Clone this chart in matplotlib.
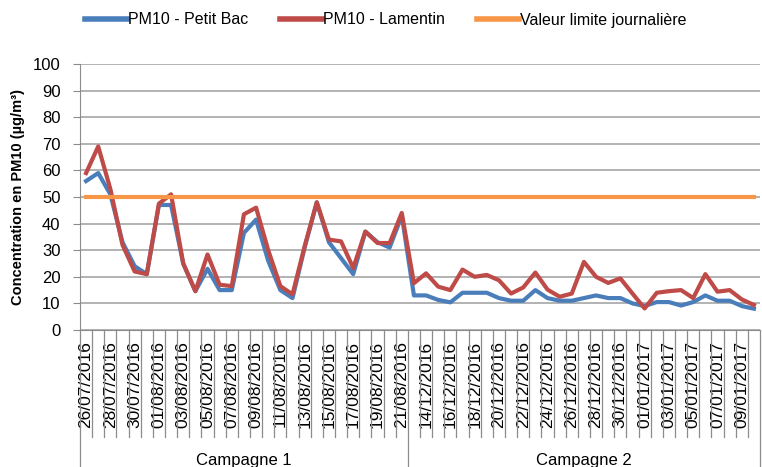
import matplotlib
matplotlib.use("Agg")
import matplotlib.pyplot as plt
import matplotlib.transforms as mtransforms
import pandas as pd

# categories: two measurement campaigns
dates_c1 = pd.date_range("2016-07-26", "2016-08-21").strftime("%d/%m/%Y").tolist()
dates_c2 = pd.date_range("2016-12-13", "2017-01-10").strftime("%d/%m/%Y").tolist()
dates = dates_c1 + dates_c2
campaigns = ["Campagne 1", "Campagne 2"]

# PM10 daily values (µg/m3)
petit_bac = [56, 59, 51, 33, 24, 21, 47, 47, 25, 14.6, 23, 15, 15, 36.5, 41.5, 26, 15, 12,
             31, 48, 33, 27, 21, 37, 33, 31, 43,
             13, 13, 11.3, 10.4, 14, 14, 14, 12, 11, 11, 15, 12, 11, 11, 12, 13, 12, 12, 10,
             9, 10.5, 10.5, 9.2, 10.5, 13, 11, 11, 9, 8]
lamentin = [59, 69, 53, 32, 22, 21, 47.5, 51, 25, 14.6, 28.4, 17, 16.5, 43.5, 46, 30, 16.5, 13.4,
            31.5, 48, 34, 33.3, 23.3, 37, 32.7, 32.7, 44,
            17.6, 21.3, 16.3, 15, 22.7, 20, 20.7, 18.7, 13.7, 16, 21.6, 15.2, 12.5, 13.7, 25.6, 20, 17.7, 19.4, 13.7,
            8.1, 14, 14.6, 15, 12, 21, 14.4, 15, 11.5, 9.4]
limite = [50] * len(dates)

plt.rcParams['font.family'] = ['Liberation Sans', 'DejaVu Sans']

fig = plt.figure(figsize=(7.62, 4.67), dpi=100)
ax = fig.add_axes([80 / 762, 1 - 330 / 467, 680 / 762, 266 / 467])

x = list(range(len(dates)))
ax.plot(x, petit_bac, color="#4a7ebb", lw=3, label="PM10 - Petit Bac")
ax.plot(x, lamentin, color="#be4b48", lw=3, label="PM10 - Lamentin")
ax.plot(x, limite, color="#f79646", lw=3, label="Valeur limite journalière")

ax.set_ylim(0, 100)
ax.set_xlim(-0.5, len(dates) - 0.5)
ax.set_yticks(range(0, 101, 10))
ax.yaxis.grid(True, color="#a6a6a6", lw=1.2)
ax.set_axisbelow(True)
for s in ["top", "right"]:
    ax.spines[s].set_visible(False)
ax.spines["left"].set_color("#8c8c8c")
ax.spines["bottom"].set_color("#8c8c8c")
ax.tick_params(axis="y", length=5, color="#8c8c8c", labelsize=12, pad=9)

ax.set_xticks(x[::2])
ax.set_xticklabels(dates[::2], rotation=90, fontsize=12.5, va="top", ha="center")
ax.tick_params(axis="x", length=0, pad=8)

# category separators through the label area
trans = mtransforms.blended_transform_factory(ax.transData, fig.transFigure)
n1 = len(dates_c1)
for k in range(len(dates) + 1):
    bx = k - 0.5
    if k in (0, n1, len(dates)):
        y0 = 0
    else:
        y0 = 1 - 437 / 467
    ax.plot([bx, bx], [1 - 330 / 467, y0], transform=trans, color="#8c8c8c",
            lw=0.9, clip_on=False)

ax.text((n1 - 1) / 2, 1 - 460 / 467, campaigns[0], transform=trans, ha="center",
        va="center", fontsize=12)
ax.text(n1 + (len(dates_c2) - 1) / 2, 1 - 460 / 467, campaigns[1], transform=trans,
        ha="center", va="center", fontsize=12)

fig.text(18 / 762, 1 - 197 / 467, "Concentration en PM10 (µg/m³)", rotation=90,
         ha="center", va="center", fontsize=10.5, fontweight="bold")

leg = fig.legend(loc="center", bbox_to_anchor=(386 / 762, 1 - 20 / 467), ncol=3,
                 frameon=False, fontsize=11.5, handlelength=2.6, columnspacing=2.0,
                 handletextpad=0.1)
for h in leg.get_lines():
    h.set_linewidth(4)

fig.savefig("out.png", dpi=100)
